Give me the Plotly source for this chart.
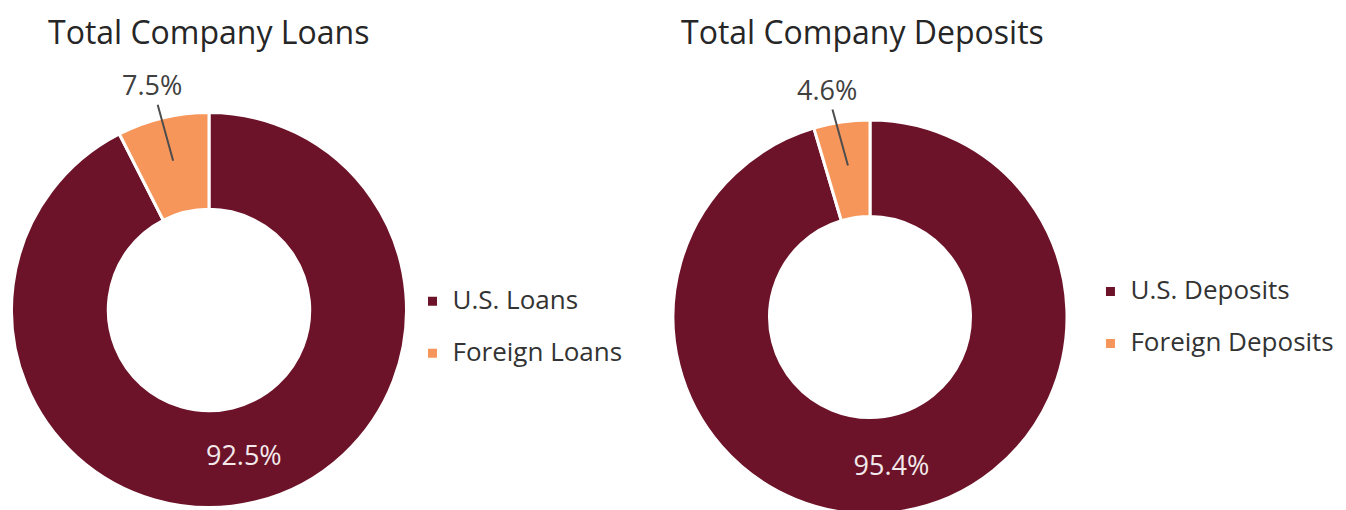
import math
import plotly.graph_objects as go

# ---- data ----
loan_labels = ["U.S. Loans", "Foreign Loans"]
loan_values = [92.5, 7.5]
deposit_labels = ["U.S. Deposits", "Foreign Deposits"]
deposit_values = [95.4, 4.6]
titles = ["Total Company Loans", "Total Company Deposits"]

# ---- style ----
W, H = 1346, 510
FONT = "Open Sans"
MAROON = "#6C1329"
ORANGE = "#F7965A"
LBL_SIZE = 27
LEG_SIZE = 26
TITLE_SIZE = 32
HOLE = 0.51

# domains (paper is drawn with the page's 8px body margin in front of it)
dom_loans = dict(x=[0.0026, 0.29606], y=[0.02059, 0.79510])
dom_deps = dict(x=[0.49406, 0.78678], y=[0.00784, 0.78039])


def legend_text(lbl):
    return f"<span style='font-size:{LEG_SIZE}px'>{lbl}</span><br> "


def make_pie(labels, values, dom, legend_name):
    return go.Pie(
        labels=[legend_text(l) for l in labels],
        values=values,
        hole=HOLE,
        sort=False,
        direction="clockwise",
        rotation=0,
        domain=dom,
        marker=dict(colors=[MAROON, ORANGE], line=dict(color="white", width=3)),
        texttemplate=["%{percent:.1%}", ""],
        textposition=["inside", "none"],
        insidetextorientation="horizontal",
        textfont=dict(family=FONT, size=LBL_SIZE, color="#F3E9EB"),
        hoverinfo="label+percent",
        legend=legend_name,
    )


def small_slice_annotation(values, dom):
    total = sum(values)
    cx = (dom["x"][0] + dom["x"][1]) / 2 * W
    cy = (1 - (dom["y"][0] + dom["y"][1]) / 2) * H
    R = min((dom["x"][1] - dom["x"][0]) * W, (dom["y"][1] - dom["y"][0]) * H) / 2
    theta = math.radians((values[0] + values[1] / 2) / total * 360)
    r_tip = R * (1 + HOLE) / 2 * 1.03
    tx = cx + r_tip * math.sin(theta)
    ty = cy - r_tip * math.cos(theta)
    return dict(
        x=tx / W, y=1 - ty / H, xref="paper", yref="paper",
        text=f"{values[1] / total * 100:.1f}%",
        showarrow=True, arrowhead=0, arrowwidth=2, arrowcolor="#4D4D4D",
        ax=-21, ay=-76, startstandoff=0,
        font=dict(family=FONT, size=LBL_SIZE, color="#404040"),
    )


fig = go.Figure()
fig.add_trace(make_pie(loan_labels, loan_values, dom_loans, "legend"))
fig.add_trace(make_pie(deposit_labels, deposit_values, dom_deps, "legend2"))

leg_common = dict(
    xanchor="left", yanchor="middle", valign="top",
    font=dict(family=FONT, size=18.85, color="#333333"),
    bgcolor="rgba(0,0,0,0)", borderwidth=0, itemclick=False, itemdoubleclick=False,
)

annotations = [
    dict(x=38 / W, y=1, xref="paper", yref="paper", xanchor="left", yanchor="top",
         text=titles[0], showarrow=False, font=dict(family=FONT, size=TITLE_SIZE, color="#262626")),
    dict(x=671 / W, y=1, xref="paper", yref="paper", xanchor="left", yanchor="top",
         text=titles[1], showarrow=False, font=dict(family=FONT, size=TITLE_SIZE, color="#262626")),
    small_slice_annotation(loan_values, dom_loans),
    small_slice_annotation(deposit_values, dom_deps),
]

fig.update_layout(
    width=W, height=H, autosize=False,
    margin=dict(l=0, r=0, t=0, b=0),
    paper_bgcolor="white", plot_bgcolor="white",
    showlegend=True,
    legend=dict(x=0.3005, y=0.3490, **leg_common),
    legend2=dict(x=0.8042, y=0.3682, **leg_common),
    annotations=annotations,
)

fig.write_html("out.html")
